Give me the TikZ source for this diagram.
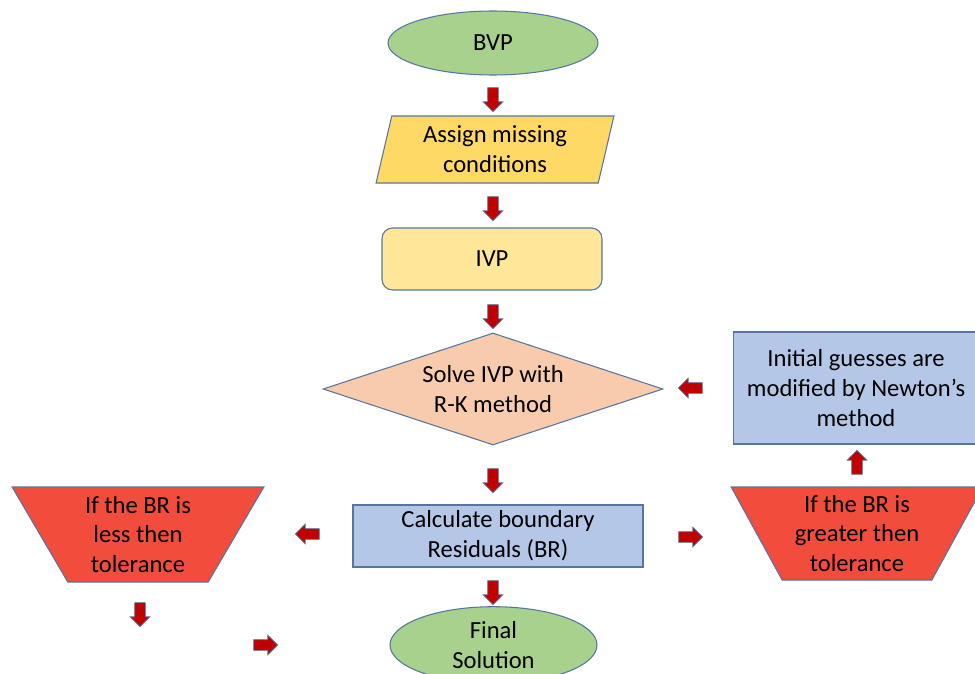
\documentclass[tikz,border=0pt]{standalone}
\usepackage{fontspec}
\setmainfont{Carlito}
\usetikzlibrary{shapes, shapes.geometric, shapes.arrows, arrows.meta}

\definecolor{edgeblue}{HTML}{5476A0}
\definecolor{startgreen}{HTML}{A9D18E}
\definecolor{assigngold}{HTML}{FFD966}
\definecolor{ivpyellow}{HTML}{FFE699}
\definecolor{solvepeach}{HTML}{F8CBAD}
\definecolor{calcblue}{HTML}{B4C7E7}
\definecolor{checkred}{HTML}{F24C3C}
\definecolor{arrowred}{HTML}{C00000}

\begin{document}
\begin{tikzpicture}[
    % Define styles
    base/.style={draw=edgeblue, line width=0.6pt, align=center, text=black, font=\fontsize{14}{17}\selectfont, inner sep=2pt},
    startbox/.style={base, ellipse, fill=startgreen, minimum width=4.2cm, minimum height=1.28cm},
    inputbox/.style={base, trapezium, trapezium left angle=78, trapezium right angle=102, trapezium stretches=true, fill=assigngold, minimum width=4.76cm, minimum height=1.34cm},
    ivpbox/.style={base, rectangle, rounded corners=6pt, fill=ivpyellow, minimum width=4.4cm, minimum height=1.24cm},
    solvebox/.style={base, diamond, aspect=3, inner sep=0pt, fill=solvepeach, minimum width=6.8cm, minimum height=2.24cm},
    calcbox/.style={base, rectangle, fill=calcblue, minimum width=5.8cm, minimum height=1.24cm},
    checkbox/.style={base, trapezium, trapezium left angle=62, trapezium right angle=62, shape border rotate=180, trapezium stretches=true, fill=checkred, minimum width=5.04cm, minimum height=1.9cm},
    blockarrow/.style={single arrow, draw=edgeblue, line width=0.4pt, fill=arrowred, minimum height=0.48cm, single arrow head extend=0.09cm, inner xsep=0pt, inner ysep=0.1cm}
]
    \path[use as bounding box, clip] (0,0) rectangle (19.5,-13.48);

    % 1. Main column
    \node[startbox] (bvp) at (9.86,-0.86) {BVP};
    \node[inputbox] (assign) at (9.9,-2.99) {Assign missing\\conditions};
    \node[ivpbox] (ivp) at (9.84,-5.18) {IVP};
    \node[solvebox] (solve) at (9.86,-7.78) {Solve IVP with\\R-K method};
    \node[calcbox] (calc) at (9.96,-10.72) {Calculate boundary\\Residuals (BR)};
    \node[startbox, minimum width=4.14cm] (final) at (9.87,-12.9) {Final\\Solution};

    % 2. The two checks
    \node[checkbox] (less) at (2.76,-10.69) {If the BR is\\less then\\tolerance};
    \node[checkbox, minimum height=1.86cm] (greater) at (17.14,-10.67) {If the BR is\\greater then\\tolerance};

    % 3. Newton update
    \node[calcbox, minimum width=4.9cm, minimum height=2.24cm] (newton) at (17.12,-7.76) {Initial guesses are\\modified by Newton's\\method};

    % 4. Block arrows
    \node[blockarrow, rotate=-90] (toassign) at (9.86,-1.94) {};
    \node[blockarrow, rotate=-90] (toivp) at (9.86,-4.12) {};
    \node[blockarrow, rotate=-90] (tosolve) at (9.86,-6.28) {};
    \node[blockarrow, rotate=-90] (tocalc) at (9.86,-9.56) {};
    \node[blockarrow, rotate=-90] (tofinal) at (9.86,-11.8) {};
    \node[blockarrow, rotate=180] (toless) at (6.2,-10.68) {};
    \node[blockarrow] (togreater) at (13.76,-10.74) {};
    \node[blockarrow, rotate=90] (tonewton) at (17.14,-9.3) {};
    \node[blockarrow, rotate=180] (backsolve) at (13.86,-7.76) {};
    \node[blockarrow, rotate=-90] (lessdown) at (2.8,-12.24) {};
    \node[blockarrow] (lessfinal) at (5.26,-12.9) {};

\end{tikzpicture}
\end{document}
